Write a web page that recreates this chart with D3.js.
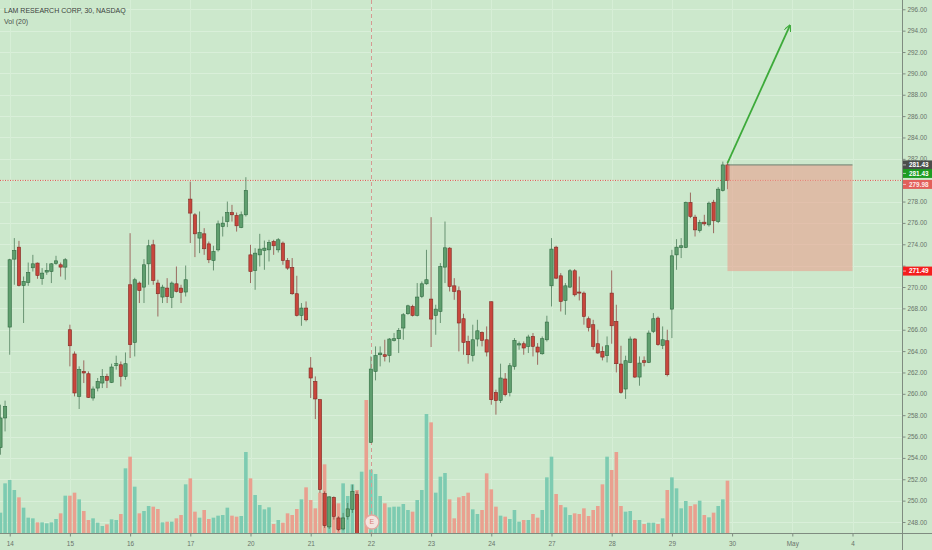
<!DOCTYPE html>
<html>
<head>
<meta charset="utf-8">
<script src="https://d3js.org/d3.v7.min.js"></script>
<style>
  html, body { margin: 0; padding: 0; background: #cce8cc; overflow: hidden; }
  svg { display: block; font-family: "Liberation Sans", Arial, sans-serif; }
</style>
</head>
<body>
<div id="chart"></div>
<script>
// 30 min bars, LRCX, first value is bar index -2 (last two bars of the 13th)
const firstIndex = -2;
const opens = [254.96,257.74,
  266.25,272.61,273.73,270.14,270.42,271.80,272.24,270.80,271.40,271.45,272.20,272.08,271.86,
  266.00,263.73,259.76,262.10,261.88,259.61,260.54,261.01,261.63,261.07,262.66,262.72,261.63,
  270.21,264.81,270.37,269.99,272.17,273.95,270.37,269.06,269.90,269.02,270.30,269.90,269.53,
  278.23,276.76,274.58,274.98,274.04,272.48,273.48,275.66,276.13,276.97,276.69,275.57,276.76,
  273.01,271.55,273.01,273.42,273.48,274.26,273.48,274.11,272.48,271.83,269.37,267.34,268.03,
  262.42,261.16,259.45,250.66,247.54,250.31,248.38,247.35,248.53,249.16,250.56,245.60,245.95,
  255.46,262.10,263.66,263.66,263.59,265.00,265.16,266.16,267.50,268.18,267.34,269.11,270.30,
  268.87,267.34,267.71,271.86,273.64,270.11,269.65,267.03,264.88,263.59,265.13,265.75,265.06,
  268.62,260.13,259.38,261.39,260.13,262.57,264.57,264.69,264.44,265.37,264.38,263.75,265.06,
  270.11,273.73,271.05,268.74,269.99,271.52,269.53,269.43,267.03,266.47,264.69,263.97,263.57,
  269.43,266.78,262.79,260.45,262.94,265.13,261.57,263.10,262.94,265.84,267.09,264.53,264.97,
  267.93,273.01,273.70,273.70,277.91,276.54,275.29,276.07,275.82,277.94,276.13,279.03,281.43];
const highs = [258.98,259.36,
  272.64,274.58,274.32,270.98,272.29,273.01,272.29,271.77,272.24,272.24,272.92,272.29,272.71,
  266.47,263.97,262.57,263.13,262.10,260.69,261.48,262.32,261.88,262.82,263.57,263.03,263.87,
  275.04,270.86,270.52,272.61,274.42,274.42,270.68,270.21,270.83,270.52,271.92,270.21,272.01,
  279.87,276.92,277.07,275.51,274.26,273.86,276.22,276.60,278.00,277.69,276.97,277.07,280.28,
  273.95,273.64,274.98,274.35,274.42,274.42,274.58,274.26,272.71,272.71,271.05,268.50,268.65,
  263.44,261.63,259.52,250.87,250.40,250.40,248.53,248.85,249.79,251.50,250.87,246.30,246.40,
  263.50,264.44,264.44,265.06,265.22,265.69,266.16,267.56,268.34,268.34,270.37,270.52,273.48,
  276.54,268.34,272.24,276.13,273.73,270.83,270.05,267.50,265.44,266.47,266.93,265.84,266.31,
  268.65,260.39,262.82,261.95,262.88,265.22,264.90,264.90,265.53,265.69,264.75,265.37,267.31,
  274.58,273.86,271.30,270.37,271.68,271.68,270.98,269.58,267.24,266.93,266.00,264.44,265.37,
  271.55,268.34,264.50,263.57,265.37,265.22,263.50,263.50,265.93,267.56,267.24,266.31,266.00,
  273.48,274.48,274.58,278.00,278.84,276.76,276.29,276.76,278.00,278.16,279.35,281.74,281.74];
const lows = [254.30,256.48,
  263.66,270.21,270.05,266.63,270.11,271.45,270.77,270.21,271.14,270.37,272.08,270.98,270.68,
  262.57,259.76,258.58,261.01,259.61,259.36,260.23,260.54,260.54,261.01,262.26,260.69,261.32,
  263.35,263.50,268.50,268.50,270.21,270.21,267.24,268.50,268.50,268.03,269.49,268.50,269.11,
  274.11,272.80,273.17,273.01,272.24,271.55,273.32,274.73,275.61,276.13,275.19,275.51,276.60,
  270.37,269.74,271.92,271.61,272.39,273.01,273.23,272.08,271.61,269.27,267.24,266.37,266.78,
  259.61,257.64,250.72,247.45,247.35,248.22,247.13,247.22,248.22,248.85,246.20,245.30,245.40,
  255.40,261.26,262.57,263.03,262.94,264.90,263.82,265.06,267.40,267.24,267.24,268.96,270.21,
  264.38,265.53,266.63,270.37,269.58,268.80,263.97,263.66,262.82,263.03,264.44,264.44,263.50,
  258.98,258.05,259.14,259.76,259.76,262.26,264.13,263.66,263.82,263.50,262.72,263.66,264.90,
  268.18,270.74,267.71,267.40,269.90,269.11,268.74,266.47,265.84,264.13,263.75,263.13,262.94,
  264.69,262.00,260.01,259.52,262.88,261.48,260.76,262.57,262.88,265.69,264.50,264.19,261.63,
  265.22,271.61,272.71,273.64,276.45,274.73,275.10,275.73,275.66,275.04,275.98,278.94,279.16];
const closes = [257.74,258.82,
  272.55,273.42,270.14,270.52,271.36,272.17,271.08,271.30,271.55,272.17,272.45,271.86,272.55,
  264.50,260.08,262.26,261.95,259.66,260.45,261.16,261.63,261.26,262.51,262.82,261.63,262.82,
  264.60,270.68,269.67,272.08,273.86,270.61,269.37,269.99,269.11,270.37,269.58,269.49,270.68,
  276.92,274.98,275.10,273.58,272.55,273.32,275.91,275.98,276.97,276.76,275.73,276.76,279.03,
  271.45,273.17,273.55,273.64,274.17,273.86,274.42,272.48,271.77,269.37,267.34,268.03,266.93,
  261.48,259.52,251.03,247.66,250.35,248.53,247.29,248.38,249.23,250.87,246.40,245.95,245.70,
  262.32,263.57,263.82,263.50,265.13,265.16,265.93,267.40,268.24,267.34,269.06,270.30,270.68,
  267.00,267.93,271.92,273.67,270.05,269.58,266.63,264.81,263.66,265.06,265.90,265.00,263.91,
  259.45,259.36,261.48,259.92,262.63,265.00,264.69,264.29,265.32,264.44,263.91,265.16,266.72,
  273.55,270.83,268.65,270.11,271.52,269.27,269.43,267.24,266.21,264.44,263.82,263.44,264.50,
  266.37,262.82,260.13,263.10,265.13,261.57,262.88,262.94,265.69,267.03,264.60,265.06,261.79,
  272.92,273.73,273.86,277.91,276.60,275.35,276.04,275.91,277.85,276.20,279.16,281.43,279.98];
// thousand shares per bar
const volumes = [61,149,
  159,129,107,76,46,44,32,32,29,32,42,59,112,
  112,121,101,66,39,44,31,21,26,41,39,57,194,
  229,139,59,66,81,79,72,32,34,34,44,54,146,
  164,64,46,69,42,46,52,54,76,52,49,51,243,
  164,114,84,71,77,27,39,31,59,54,72,101,137,
  99,74,121,206,109,86,89,149,111,146,129,184,399,
  190,177,111,89,77,79,79,87,69,64,99,129,357,
  332,121,169,180,101,44,107,111,121,71,57,69,179,
  131,79,52,49,42,69,34,39,39,57,46,69,167,
  229,117,84,77,54,59,57,74,51,69,81,146,229,
  189,243,81,64,66,39,39,27,31,31,27,44,129,
  167,134,74,96,81,86,97,54,47,61,81,101,157];

const dayLabels = ["14","15","16","17","20","21","22","23","24","27","28","29","30","May","4"];
const barsPerDay = 13;

const lastPrice = 279.98;
const prevClose = 281.43;
const entryPrice = 281.43;
const stopPrice = 271.49;
const boxFrom = 155, boxTo = 182;           // bar index
const arrowFrom = [155, 281.6], arrowTo = [168.5, 294.5];
const crossIndex = 78;
const earningsIndex = 78;

const W = 932, H = 550;
const plotR = 902, plotB = 533;
const bg = "#cce8cc";

const svg = d3.select("#chart").append("svg")
  .attr("width", W).attr("height", H);

svg.append("rect").attr("width", W).attr("height", H).attr("fill", bg);

const x = d3.scaleLinear().domain([0, barsPerDay]).range([9.7, 69.9]);
const y = d3.scaleLinear().domain([246.97, 296.87]).range([plotB, 0]);
const yVol = d3.scaleLinear().domain([0, 450]).range([plotB, plotB - 150]);

const bars = opens.map((o, k) => ({
  i: firstIndex + k, o: o, h: highs[k], l: lows[k], c: closes[k], v: volumes[k]
}));

svg.append("clipPath").attr("id", "plot")
  .append("rect").attr("width", plotR).attr("height", plotB);

// grid
const priceTicks = d3.range(248, 297, 2);
const dayTicks = dayLabels.map((d, k) => k * barsPerDay);

const grid = svg.append("g").attr("clip-path", "url(#plot)");
grid.selectAll(".hg").data(priceTicks).enter().append("line")
  .attr("x1", 0).attr("x2", plotR)
  .attr("y1", d => Math.round(y(d)) + 0.5).attr("y2", d => Math.round(y(d)) + 0.5)
  .attr("stroke", "#d9efd9").attr("stroke-width", 1);
grid.selectAll(".vg").data(dayTicks).enter().append("line")
  .attr("x1", d => Math.round(x(d)) + 0.5).attr("x2", d => Math.round(x(d)) + 0.5)
  .attr("y1", 0).attr("y2", plotB)
  .attr("stroke", "#d6eed6").attr("stroke-width", 1);

const plot = svg.append("g").attr("clip-path", "url(#plot)");

// volume
const volW = 3.6;
plot.append("g").selectAll("rect").data(bars).enter().append("rect")
  .attr("x", d => x(d.i) - volW / 2)
  .attr("y", d => yVol(d.v))
  .attr("width", volW)
  .attr("height", d => plotB - yVol(d.v))
  .attr("fill", d => d.c >= d.o ? "#7dcbb1" : "#e9a08f");

// crosshair
plot.append("line")
  .attr("x1", Math.round(x(crossIndex)) + 0.5).attr("x2", Math.round(x(crossIndex)) + 0.5)
  .attr("y1", 0).attr("y2", plotB)
  .attr("stroke", "#d59a92").attr("stroke-width", 1)
  .attr("stroke-dasharray", "4,3");

// last price line
plot.append("line")
  .attr("x1", 0).attr("x2", plotR)
  .attr("y1", y(lastPrice)).attr("y2", y(lastPrice))
  .attr("stroke", "#e0504a").attr("stroke-width", 1)
  .attr("stroke-dasharray", "1,1.5");

// candles
const bodyW = 3.3;
const candle = plot.append("g").selectAll("g").data(bars).enter().append("g");
candle.append("line")
  .attr("x1", d => x(d.i)).attr("x2", d => x(d.i))
  .attr("y1", d => y(d.h)).attr("y2", d => y(d.l))
  .attr("stroke", d => d.c >= d.o ? "#4f7d5c" : "#8e4a44")
  .attr("stroke-width", 0.8);
candle.append("rect")
  .attr("x", d => x(d.i) - bodyW / 2)
  .attr("y", d => y(Math.max(d.o, d.c)))
  .attr("width", bodyW)
  .attr("height", d => Math.max(1, Math.abs(y(d.o) - y(d.c))))
  .attr("fill", d => d.c >= d.o ? "#5f9e6e" : "#c8463c")
  .attr("stroke", d => d.c >= d.o ? "#2f6a40" : "#7f2a24")
  .attr("stroke-width", 0.6);

// earnings marker
const eg = plot.append("g")
  .attr("transform", `translate(${x(earningsIndex) + 1},${plotB - 11})`);
eg.append("circle").attr("r", 7)
  .attr("fill", "#f3e4df").attr("stroke", "#e3a7a0").attr("stroke-width", 1.3);
eg.append("text").attr("text-anchor", "middle").attr("dy", "0.35em")
  .attr("font-size", 7).attr("fill", "#d97d74").text("E");

// long position box
const boxTop = y(entryPrice), boxBot = y(stopPrice);
svg.append("rect")
  .attr("x", x(boxFrom)).attr("y", boxTop)
  .attr("width", x(boxTo) - x(boxFrom)).attr("height", boxBot - boxTop)
  .attr("fill", "#e8a08e").attr("fill-opacity", 0.6);
svg.append("line")
  .attr("x1", x(boxFrom)).attr("x2", x(boxTo))
  .attr("y1", boxTop).attr("y2", boxTop)
  .attr("stroke", "#6b7f6e").attr("stroke-width", 1);

// arrow
svg.append("defs").append("marker")
  .attr("id", "head")
  .attr("viewBox", "0 -5 10 10")
  .attr("refX", 9).attr("refY", 0)
  .attr("markerWidth", 7).attr("markerHeight", 7)
  .attr("markerUnits", "userSpaceOnUse")
  .attr("orient", "auto")
  .append("path").attr("d", "M 0,-5 L 10,0 L 0,5")
  .attr("fill", "none").attr("stroke", "#3daa3a").attr("stroke-width", 1.6);
svg.append("line")
  .attr("x1", x(arrowFrom[0])).attr("y1", y(arrowFrom[1]))
  .attr("x2", x(arrowTo[0])).attr("y2", y(arrowTo[1]))
  .attr("stroke", "#3daa3a").attr("stroke-width", 1.8)
  .attr("marker-end", "url(#head)");

// price labels on the scale (some are pushed down so they do not cover each other)
const tags = [
  {p: prevClose, yc: y(prevClose), bg: "#4b4e4b", fg: "#ffffff"},
  {p: entryPrice, yc: y(entryPrice) + 8.5, bg: "#1d9c22", fg: "#ffffff"},
  {p: lastPrice, yc: y(lastPrice) + 4, bg: "#e2605a", fg: "#ffe9e6"},
  {p: stopPrice, yc: y(stopPrice), bg: "#f41e1e", fg: "#ffffff"}
];

// right axis, ticks hidden where a tag sits on them
const yAxis = svg.append("g")
  .attr("transform", `translate(${plotR + 0.5},0)`)
  .call(d3.axisRight(y).tickValues(priceTicks).tickFormat(d3.format(".2f")).tickSize(3).tickPadding(2));
yAxis.select(".domain").remove();
yAxis.selectAll(".tick line").attr("stroke", "#7f8c80");
yAxis.selectAll(".tick text").attr("fill", "#69736a").attr("font-size", 6.4)
  .attr("font-family", "'Liberation Sans', Arial, sans-serif");
yAxis.selectAll(".tick")
  .filter(d => tags.some(t => Math.abs(y(d) - t.yc) < 5.5))
  .select("text").remove();
svg.append("line")
  .attr("x1", plotR + 0.5).attr("x2", plotR + 0.5).attr("y1", 0).attr("y2", H)
  .attr("stroke", "#7f8c80").attr("stroke-width", 1);

// bottom axis
const xAxis = svg.append("g")
  .attr("transform", `translate(0,${plotB + 0.5})`)
  .call(d3.axisBottom(x).tickValues(dayTicks).tickFormat((d, k) => dayLabels[k]).tickSize(3).tickPadding(5));
xAxis.select(".domain").remove();
xAxis.selectAll(".tick line").attr("stroke", "#7f8c80");
xAxis.selectAll(".tick text").attr("fill", "#69736a").attr("font-size", 6.4)
  .attr("font-family", "'Liberation Sans', Arial, sans-serif");
svg.append("line")
  .attr("x1", 0).attr("x2", W).attr("y1", plotB + 0.5).attr("y2", plotB + 0.5)
  .attr("stroke", "#7f8c80").attr("stroke-width", 1);

const tag = svg.append("g").selectAll("g").data(tags).enter().append("g")
  .attr("transform", d => `translate(${plotR + 1},${d.yc})`);
tag.append("rect").attr("x", 0).attr("y", -4.5).attr("width", W - plotR).attr("height", 9)
  .attr("fill", d => d.bg);
tag.append("line").attr("x1", 0).attr("x2", 3).attr("stroke", "#ffffff").attr("stroke-width", 0.6);
tag.append("text").attr("x", 6).attr("dy", "0.35em")
  .attr("font-size", 6.4).attr("font-weight", "bold").attr("fill", d => d.fg)
  .text(d => d3.format(".2f")(d.p));

// legend
svg.append("text").attr("x", 4).attr("y", 13.3)
  .attr("font-size", 7).attr("fill", "#3b433c")
  .text("LAM RESEARCH CORP, 30, NASDAQ");
svg.append("text").attr("x", 4).attr("y", 24)
  .attr("font-size", 7).attr("fill", "#4a524b")
  .text("Vol (20)");
</script>
</body>
</html>
